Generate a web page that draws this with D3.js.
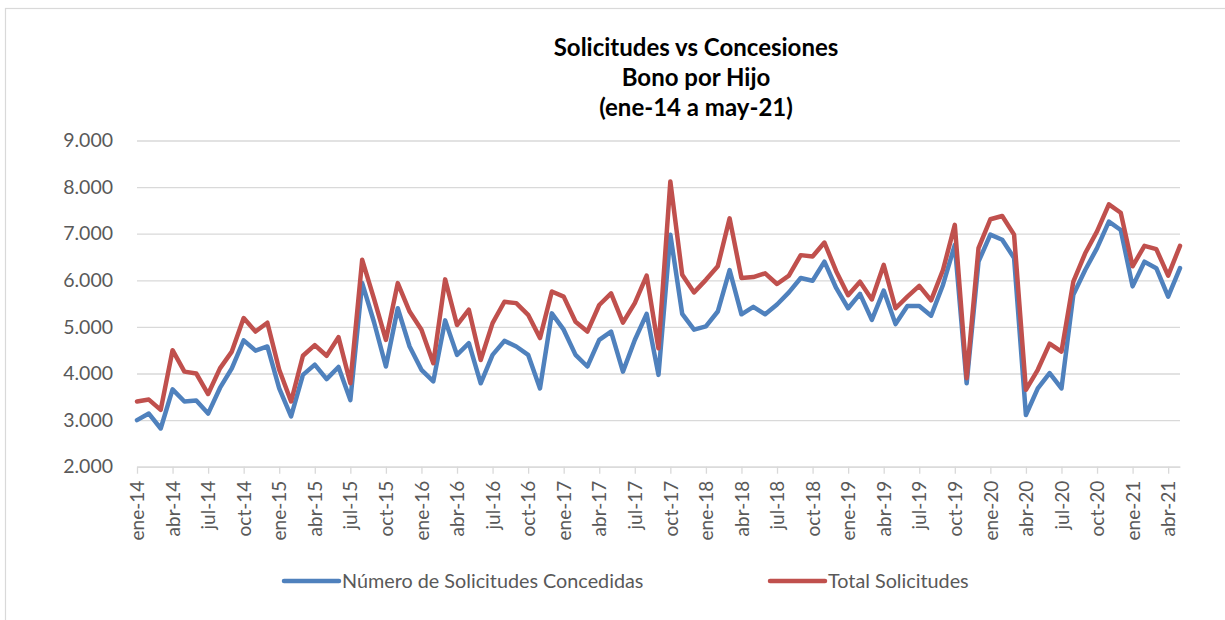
<!DOCTYPE html>
<html>
<head>
<meta charset="utf-8">
<script src="https://cdn.jsdelivr.net/npm/d3@7"></script>
<style>
  html, body { margin: 0; padding: 0; background: #fff; }
  svg { display: block; font-family: Lato, "Open Sans", sans-serif; }
</style>
</head>
<body>
<svg id="chart"></svg>
<script>
// Month labels ene-14 .. may-21
const monthNames = ["ene", "feb", "mar", "abr", "may", "jun", "jul", "ago", "sep", "oct", "nov", "dic"];
const years = ["14", "15", "16", "17", "18", "19", "20", "21"];
const categories = [];
years.forEach(y => monthNames.forEach(m => categories.push(m + "-" + y)));
categories.splice(categories.indexOf("may-21") + 1);

// Número de Solicitudes Concedidas
const concedidas = [
    3000, 3140, 2820, 3660, 3400, 3420, 3140, 3690, 4110, 4710, 4490, 4580,
    3680, 3080, 3970, 4190, 3880, 4140, 3430, 5940, 5100, 4150, 5400, 4580,
    4080, 3830, 5140, 4400, 4650, 3790, 4400, 4700, 4580, 4400, 3680, 5290,
    4940, 4400, 4150, 4720, 4900, 4040, 4720, 5280, 3970, 6980, 5280, 4940,
    5010, 5330, 6220, 5270, 5430, 5270, 5480, 5740, 6050, 5990, 6400, 5830,
    5400, 5710, 5150, 5780, 5060, 5450, 5450, 5240, 5900, 6760, 3790, 6400,
    6980, 6870, 6480, 3110, 3680, 4010, 3680, 5690, 6220, 6690, 7260, 7080,
    5870, 6400, 6260, 5650, 6260
];

// Total Solicitudes
const totales = [
    3400, 3440, 3220, 4500, 4040, 4000, 3560, 4110, 4470, 5190, 4900, 5090,
    4080, 3400, 4380, 4610, 4380, 4780, 3790, 6440, 5600, 4720, 5940, 5330,
    4940, 4220, 6020, 5040, 5370, 4290, 5080, 5540, 5510, 5260, 4760, 5760,
    5650, 5110, 4900, 5470, 5720, 5090, 5510, 6100, 4540, 8120, 6120, 5740,
    6010, 6300, 7330, 6050, 6070, 6150, 5920, 6100, 6540, 6510, 6810, 6190,
    5680, 5970, 5590, 6330, 5400, 5650, 5880, 5570, 6220, 7190, 3900, 6690,
    7310, 7380, 6980, 3650, 4080, 4640, 4470, 5970, 6580, 7050, 7630, 7450,
    6300, 6740, 6670, 6100, 6740
];

const yTicks = [2000, 3000, 4000, 5000, 6000, 7000, 8000, 9000];
const titleLines = ["Solicitudes vs Concesiones", "Bono por Hijo", "(ene-14 a may-21)"];
const series = [
    { name: "Número de Solicitudes Concedidas", values: concedidas, color: "#4f81bd" },
    { name: "Total Solicitudes", values: totales, color: "#c0504d" }
];

const width = 1225, height = 620;
const plot = { left: 137, right: 1180, top: 140.5, bottom: 466.7 };

const svg = d3.select("#chart")
    .attr("width", width)
    .attr("height", height);

// chart frame
svg.append("rect")
    .attr("x", 5.5).attr("y", 8.5)
    .attr("width", 1240).attr("height", 640)
    .attr("fill", "#fff")
    .attr("stroke", "#d9d9d9")
    .attr("stroke-width", 1.2);

const x = d3.scalePoint()
    .domain(categories)
    .range([plot.left, plot.right]);

const y = d3.scaleLinear()
    .domain([2000, 9000])
    .range([plot.bottom, plot.top]);

const fmt = d => d3.format(",")(d).replace(/,/g, ".");

// gridlines + y labels
const yAxis = svg.append("g")
    .attr("transform", `translate(${plot.left},0)`)
    .call(d3.axisLeft(y)
        .tickValues(yTicks)
        .tickSize(-(plot.right - plot.left))
        .tickPadding(24)
        .tickFormat(fmt));
yAxis.select(".domain").remove();
yAxis.selectAll(".tick line")
    .attr("stroke", "#d9d9d9")
    .attr("stroke-width", 1.3);
yAxis.selectAll(".tick text")
    .attr("fill", "#595959")
    .attr("font-size", 19.5)
    .attr("font-family", "Lato, sans-serif");

// x axis
const xAxis = svg.append("g")
    .attr("transform", `translate(0,${plot.bottom})`)
    .call(d3.axisBottom(x)
        .tickValues(categories.filter((d, i) => i % 3 === 0))
        .tickSize(7)
        .tickSizeOuter(0));
xAxis.select(".domain")
    .attr("stroke", "#d9d9d9")
    .attr("stroke-width", 1.3);
xAxis.selectAll(".tick line")
    .attr("stroke", "#d9d9d9")
    .attr("stroke-width", 1.3);
xAxis.selectAll(".tick text")
    .attr("fill", "#595959")
    .attr("font-size", 19)
    .attr("font-family", "Lato, sans-serif")
    .attr("transform", "rotate(-90)")
    .attr("text-anchor", "end")
    .attr("x", -14)
    .attr("y", 0)
    .attr("dy", "0.35em");

// lines
const line = d3.line()
    .x((d, i) => x(categories[i]))
    .y(d => y(d));

svg.append("g")
    .selectAll("path")
    .data(series)
    .enter().append("path")
    .attr("d", d => line(d.values))
    .attr("fill", "none")
    .attr("stroke", d => d.color)
    .attr("stroke-width", 4.5)
    .attr("stroke-linejoin", "round")
    .attr("stroke-linecap", "round");

// title
svg.append("text")
    .attr("x", 696)
    .attr("y", 56)
    .attr("text-anchor", "middle")
    .attr("font-weight", "bold")
    .attr("font-size", 24)
    .attr("fill", "#000")
    .selectAll("tspan")
    .data(titleLines)
    .enter().append("tspan")
    .attr("x", 696)
    .attr("dy", (d, i) => i === 0 ? 0 : 30)
    .text(d => d);

// legend
const legendX = [284, 770];
const legend = svg.append("g")
    .selectAll("g")
    .data(series)
    .enter().append("g")
    .attr("transform", (d, i) => `translate(${legendX[i]},581)`);
legend.append("line")
    .attr("x1", 0).attr("x2", 55)
    .attr("stroke", d => d.color)
    .attr("stroke-width", 4.5)
    .attr("stroke-linecap", "round");
legend.append("text")
    .attr("x", 58)
    .attr("dy", "0.35em")
    .attr("font-size", 19.8)
    .attr("fill", "#595959")
    .text(d => d.name);
</script>
</body>
</html>
